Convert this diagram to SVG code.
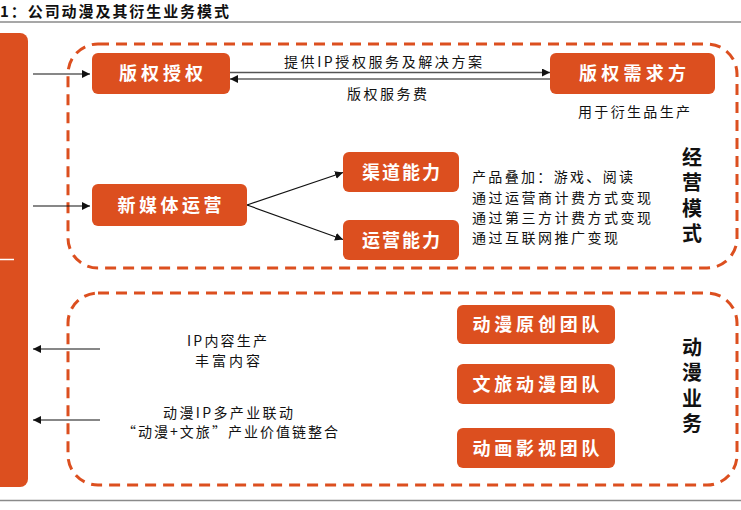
<svg xmlns="http://www.w3.org/2000/svg" width="741" height="510" viewBox="0 0 741 510">
<style>
.node{fill:#DC4F1F;}
.nt{font-family:"Noto Sans CJK SC","Noto Sans",sans-serif;font-size:18px;font-weight:bold;fill:#fff;text-anchor:middle;}
.lb{font-family:"Noto Sans CJK SC","Noto Sans",sans-serif;font-size:14px;fill:#111;}
.side{font-family:"Noto Sans CJK SC","Noto Sans",sans-serif;font-size:20px;font-weight:bold;fill:#111;writing-mode:vertical-rl;letter-spacing:5.5px;}
.dash{fill:none;stroke:#DC4F1F;stroke-width:3;stroke-dasharray:11 7;}
.ln{fill:none;stroke:#111;stroke-width:1.2;}
</style>
<defs>
<marker id="ah" viewBox="0 0 10 10" refX="10" refY="5" markerWidth="8" markerHeight="8" markerUnits="userSpaceOnUse" orient="auto">
<path d="M0,0 L10,5 L0,10 z" fill="#111"/>
</marker>
</defs>
<rect width="741" height="510" fill="#fff"/>
<text x="0" y="17" font-family="'Noto Sans CJK SC',sans-serif" font-size="15" font-weight="bold" fill="#111" textLength="229" lengthAdjust="spacing">1：公司动漫及其衍生业务模式</text>
<line x1="0" y1="22" x2="741" y2="22" stroke="#8a8a8a" stroke-width="1.5"/>
<g id="left-bar">
<rect x="-12" y="33" width="40" height="454" rx="8" class="node"/>
<line x1="0" y1="259.5" x2="14" y2="259.5" stroke="#fff" stroke-width="1.5"/>
</g>
<g id="group-jingying">
<rect x="68" y="44" width="669" height="224" rx="30" class="dash"/>
<text class="side" x="692" y="147">经营模式</text>
</g>
<g id="group-dongman">
<rect x="68" y="293" width="669" height="192" rx="30" class="dash"/>
<text class="side" x="692" y="337">动漫业务</text>
</g>
<g id="connectors">
<line class="ln" x1="33" y1="74" x2="90" y2="74" marker-end="url(#ah)"/>
<line class="ln" x1="33" y1="206" x2="90" y2="206" marker-end="url(#ah)"/>
<line x1="230" y1="72.5" x2="550" y2="72.5" stroke="#555" stroke-width="1.5" marker-end="url(#ah)"/>
<line class="ln" x1="550" y1="79" x2="230" y2="79" stroke-width="1.5" marker-end="url(#ah)"/>
<line class="ln" x1="247" y1="205" x2="343" y2="172.5" marker-end="url(#ah)"/>
<line class="ln" x1="247" y1="205" x2="343" y2="239.5" marker-end="url(#ah)"/>
<line class="ln" x1="100" y1="349" x2="33" y2="349" marker-end="url(#ah)"/>
<line class="ln" x1="100" y1="420" x2="33" y2="420" marker-end="url(#ah)"/>
<text class="lb" x="284" y="67" textLength="198" lengthAdjust="spacing">提供IP授权服务及解决方案</text>
<text class="lb" x="347" y="99" textLength="80" lengthAdjust="spacing">版权服务费</text>
<text class="lb" x="187" y="346" textLength="80" lengthAdjust="spacing">IP内容生产</text>
<text class="lb" x="195" y="366" textLength="65" lengthAdjust="spacing">丰富内容</text>
<text class="lb" x="163" y="418" textLength="130" lengthAdjust="spacing">动漫IP多产业联动</text>
<text class="lb" x="122" y="437" textLength="216" lengthAdjust="spacing">“动漫+文旅”产业价值链整合</text>
</g>
<g id="node-banquan-shouquan">
<rect x="92" y="53" width="138" height="41" rx="6" class="node"/>
<text class="nt" x="161" y="80" textLength="84" lengthAdjust="spacing">版权授权</text>
</g>
<g id="node-banquan-xuqiufang">
<rect x="550" y="53" width="165" height="41" rx="6" class="node"/>
<text class="nt" x="632.5" y="80" textLength="107" lengthAdjust="spacing">版权需求方</text>
<text class="lb" x="578" y="117" textLength="112" lengthAdjust="spacing">用于衍生品生产</text>
</g>
<g id="node-xinmeiti">
<rect x="92" y="184" width="155" height="42" rx="6" class="node"/>
<text class="nt" x="169.5" y="212" textLength="104" lengthAdjust="spacing">新媒体运营</text>
</g>
<g id="node-qudao">
<rect x="343" y="152" width="116" height="40" rx="6" class="node"/>
<text class="nt" x="401" y="179" textLength="78" lengthAdjust="spacing">渠道能力</text>
</g>
<g id="node-yunying">
<rect x="343" y="220" width="116" height="40" rx="6" class="node"/>
<text class="nt" x="401" y="247" textLength="78" lengthAdjust="spacing">运营能力</text>
</g>
<g id="text-block">
<text class="lb" x="472" y="182" textLength="161" lengthAdjust="spacing">产品叠加：游戏、阅读</text>
<text class="lb" x="472" y="203" textLength="179" lengthAdjust="spacing">通过运营商计费方式变现</text>
<text class="lb" x="472" y="223" textLength="179" lengthAdjust="spacing">通过第三方计费方式变现</text>
<text class="lb" x="472" y="243" textLength="146" lengthAdjust="spacing">通过互联网推广变现</text>
</g>
<g id="node-yuanchuang">
<rect x="457" y="305" width="158" height="39" rx="6" class="node"/>
<text class="nt" x="536" y="331" textLength="127" lengthAdjust="spacing">动漫原创团队</text>
</g>
<g id="node-wenlv">
<rect x="457" y="364" width="158" height="40" rx="6" class="node"/>
<text class="nt" x="536" y="391" textLength="127" lengthAdjust="spacing">文旅动漫团队</text>
</g>
<g id="node-donghua">
<rect x="457" y="428" width="158" height="40" rx="6" class="node"/>
<text class="nt" x="536" y="455" textLength="127" lengthAdjust="spacing">动画影视团队</text>
</g>
<line x1="0" y1="500.5" x2="741" y2="500.5" stroke="#8a8a8a" stroke-width="1.5"/>
</svg>
